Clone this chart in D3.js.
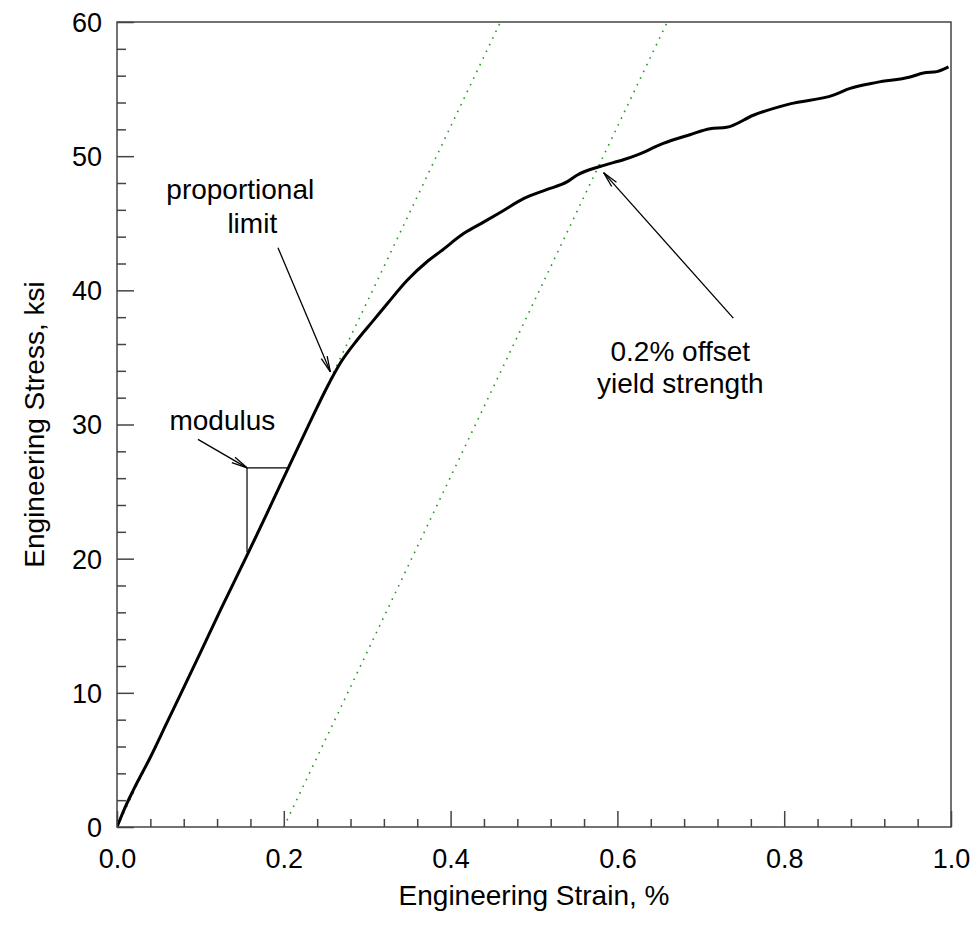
<!DOCTYPE html>
<html>
<head>
<meta charset="utf-8">
<script src="https://cdn.jsdelivr.net/npm/d3@7"></script>
<style>
  html, body { margin: 0; padding: 0; background: #fff; }
  svg { display: block; font-family: "Liberation Sans", Arial, Helvetica, sans-serif; }
</style>
</head>
<body>
<svg id="chart" width="977" height="934"></svg>
<script>
// Tensile test: engineering strain (%) vs engineering stress (ksi)
const strain = [0, 0.01, 0.02, 0.04, 0.06, 0.077, 0.10, 0.125, 0.154, 0.18, 0.206, 0.232,
  0.252, 0.268, 0.288, 0.308, 0.324, 0.348, 0.372, 0.388, 0.416, 0.44, 0.462, 0.488, 0.515,
  0.54, 0.552, 0.58, 0.608, 0.624, 0.655, 0.687, 0.711, 0.731, 0.763, 0.807, 0.859, 0.879,
  0.911, 0.951, 0.967, 0.983, 0.997];
const stress = [0, 1.5, 2.8, 5.2, 7.8, 10.0, 13.0, 16.3, 20.0, 23.4, 26.85, 30.25,
  32.8, 34.6, 36.3, 37.8, 39.0, 40.75, 42.15, 42.9, 44.25, 45.1, 45.9, 46.85, 47.5,
  48.1, 48.6, 49.25, 49.75, 50.1, 50.95, 51.6, 52.05, 52.15, 53.05, 53.9, 54.55, 55.05,
  55.5, 55.9, 56.2, 56.3, 56.65];

// Elastic modulus line and 0.2% offset line (ksi per % strain)
const modulus = 130.5;
const offsetStrain = [0, 0.2];

// Axes
const xDomain = [0, 1.0];
const yDomain = [0, 60];
const xMajorTicks = [0, 0.2, 0.4, 0.6, 0.8, 1.0];
const xTickLabels = ["0.0", "0.2", "0.4", "0.6", "0.8", "1.0"];
const xMinorStep = 0.04;
const yMajorTicks = [0, 10, 20, 30, 40, 50, 60];
const yTickLabels = ["0", "10", "20", "30", "40", "50", "60"];
const yMinorStep = 2;
const xTitle = "Engineering Strain, %";
const yTitle = "Engineering Stress, ksi";

// Modulus triangle: vertical leg strain, horizontal leg end strain; lower and upper stress
const triStrain = [0.1559, 0.2048];
const triStress = [20.5, 26.77];

// Annotation arrows [tailStrain, tailStress, tipStrain, tipStress]
const arrows = [
  [0.193, 43.18, 0.2558, 33.93],
  [0.0971, 28.89, 0.1559, 26.77],
  [0.739, 37.93, 0.5835, 48.77]
];
// Annotation text lines [strain, stress, text]
const notes = [
  [0.1478, 46.81, "proportional"],
  [0.1622, 44.27, "limit"],
  [0.1263, 29.58, "modulus"],
  [0.6754, 34.72, "0.2% offset"],
  [0.6754, 32.35, "yield strength"]
];

const svg = d3.select("#chart");
const W = 977, H = 934;
const margin = { left: 117, top: 22, right: 26, bottom: 107 };
const x = d3.scaleLinear().domain(xDomain).range([margin.left, W - margin.right]);
const y = d3.scaleLinear().domain(yDomain).range([H - margin.bottom, margin.top]);

const axisColor = "#444";
const tickFont = 27;
const titleFont = 28;
const noteFont = 28;

// Minor ticks first, then major ticks with labels
const xMinor = d3.range(xDomain[0], xDomain[1] + 1e-9, xMinorStep).filter(v => !xMajorTicks.some(m => Math.abs(m - v) < 1e-6));
const yMinor = d3.range(yDomain[0], yDomain[1] + 1e-9, yMinorStep).filter(v => !yMajorTicks.some(m => Math.abs(m - v) < 1e-6));

const xAxisMinor = d3.axisBottom(x).tickValues(xMinor).tickSize(-8).tickFormat("");
const xAxisMajor = d3.axisBottom(x).tickValues(xMajorTicks).tickSize(-16).tickFormat((d, i) => xTickLabels[i]);
const yAxisMinor = d3.axisLeft(y).tickValues(yMinor).tickSize(-9).tickFormat("");
const yAxisMajor = d3.axisLeft(y).tickValues(yMajorTicks).tickSize(-17).tickFormat((d, i) => yTickLabels[i]);

function styleAxis(g) {
  g.select(".domain").remove();
  g.attr("font-size", null).attr("font-family", null);
  g.selectAll(".tick line").attr("stroke", axisColor).attr("stroke-width", 1.5);
  g.selectAll(".tick text").attr("fill", "#000").style("font-size", tickFont + "px")
    .style("font-family", "'Liberation Sans', Arial, sans-serif");
}

const bottomY = y(yDomain[0]);
svg.append("g").attr("transform", `translate(0,${bottomY})`).call(xAxisMinor).call(styleAxis);
const xMaj = svg.append("g").attr("transform", `translate(0,${bottomY})`).call(xAxisMajor).call(styleAxis);
svg.append("g").attr("transform", `translate(${x(xDomain[0])},0)`).call(yAxisMinor).call(styleAxis);
const yMaj = svg.append("g").attr("transform", `translate(${x(xDomain[0])},0)`).call(yAxisMajor).call(styleAxis);
// Labels sit outside the inward ticks
yMaj.selectAll(".tick text").attr("x", -15).attr("dy", "0.35em");
xMaj.selectAll(".tick text").attr("y", 41).attr("dy", 0);

// Clip region for the plotted lines
svg.append("clipPath").attr("id", "plotclip").append("rect")
  .attr("x", x(xDomain[0])).attr("y", y(yDomain[1]))
  .attr("width", x(xDomain[1]) - x(xDomain[0])).attr("height", y(yDomain[0]) - y(yDomain[1]));

const plot = svg.append("g").attr("clip-path", "url(#plotclip)");

// Elastic lines (dotted green)
offsetStrain.forEach(s0 => {
  const top = yDomain[1];
  plot.append("line")
    .attr("x1", x(s0)).attr("y1", y(0))
    .attr("x2", x(s0 + top / modulus)).attr("y2", y(top))
    .attr("stroke", "#239b23").attr("stroke-width", 1.6)
    .attr("stroke-dasharray", "1.6,5.8");
});

// Stress-strain curve
const pts = strain.map((s, i) => [s, stress[i]]);
plot.append("path")
  .datum(pts)
  .attr("fill", "none")
  .attr("stroke", "#000")
  .attr("stroke-width", 3)
  .attr("stroke-linejoin", "round")
  .attr("d", d3.line().x(d => x(d[0])).y(d => y(d[1])).curve(d3.curveMonotoneX));

// Modulus triangle legs
svg.append("path")
  .attr("fill", "none").attr("stroke", "#000").attr("stroke-width", 1.2)
  .attr("d", `M${x(triStrain[0])},${y(triStress[0])}V${y(triStress[1])}H${x(triStrain[1])}`);

// Arrows with open heads
arrows.forEach(a => {
  const x1 = x(a[0]), y1 = y(a[1]), x2 = x(a[2]), y2 = y(a[3]);
  const ang = Math.atan2(y2 - y1, x2 - x1);
  const len = 16, spread = 0.2;
  const g = svg.append("g").attr("stroke", "#000").attr("stroke-width", 1.3).attr("fill", "none");
  g.append("line").attr("x1", x1).attr("y1", y1).attr("x2", x2).attr("y2", y2);
  [-spread, spread].forEach(d => {
    g.append("line").attr("x1", x2).attr("y1", y2)
      .attr("x2", x2 - len * Math.cos(ang + d)).attr("y2", y2 - len * Math.sin(ang + d));
  });
});

// Annotation text
notes.forEach(n => {
  svg.append("text")
    .attr("x", x(n[0])).attr("y", y(n[1]))
    .attr("text-anchor", "middle")
    .style("font-size", noteFont + "px")
    .attr("fill", "#000")
    .text(n[2]);
});

// Plot frame
svg.append("rect")
  .attr("x", x(xDomain[0])).attr("y", y(yDomain[1]))
  .attr("width", x(xDomain[1]) - x(xDomain[0])).attr("height", y(yDomain[0]) - y(yDomain[1]))
  .attr("fill", "none").attr("stroke", axisColor).attr("stroke-width", 1.5);

// Axis titles
svg.append("text")
  .attr("x", (x(xDomain[0]) + x(xDomain[1])) / 2).attr("y", 905)
  .attr("text-anchor", "middle").style("font-size", titleFont + "px").attr("fill", "#000")
  .text(xTitle);
svg.append("text")
  .attr("transform", `translate(44,${(y(yDomain[0]) + y(yDomain[1])) / 2}) rotate(-90)`)
  .attr("text-anchor", "middle").style("font-size", titleFont + "px").attr("fill", "#000")
  .text(yTitle);
</script>
</body>
</html>
